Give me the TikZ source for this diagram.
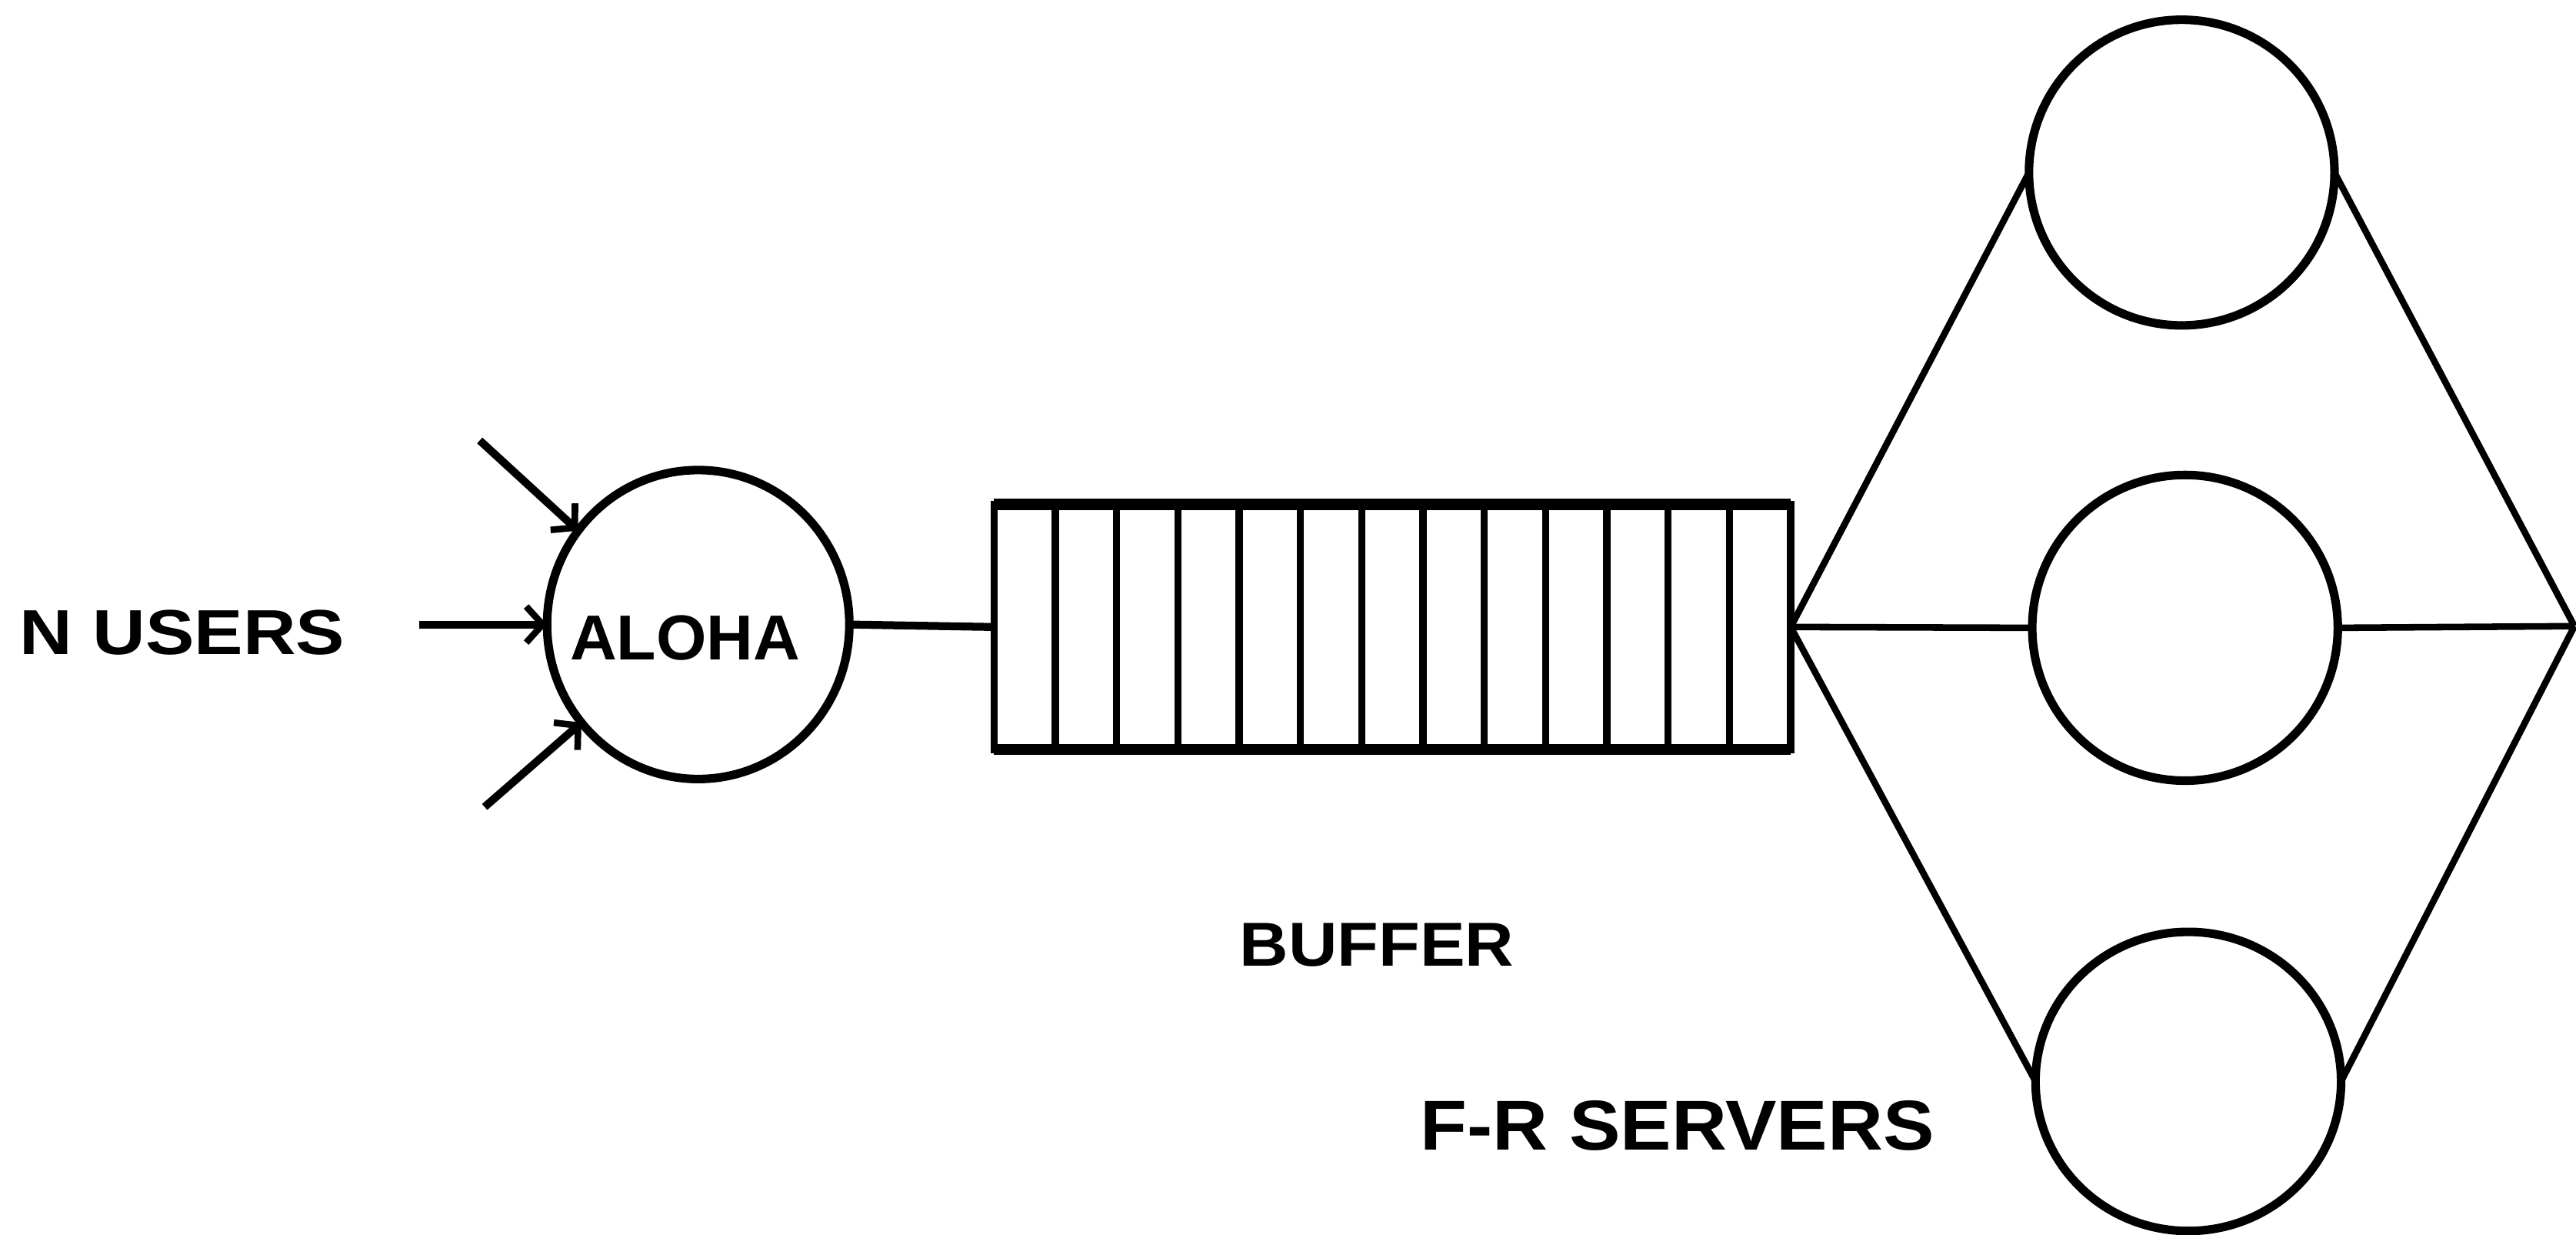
\documentclass[tikz,border=0pt]{standalone}
\usepackage{fontspec}
\setmainfont{Liberation Sans}
\usetikzlibrary{shapes.geometric,arrows.meta,calc}
\begin{document}
\begin{tikzpicture}[x=0.5pt,y=-0.5pt,
  station/.style={ellipse,draw,line width=2.6pt,inner sep=0pt,outer sep=0pt},
  link/.style={line width=2pt},
  feed/.style={line width=2.4pt,-{Straight Barb[length=5pt,width=11pt,line width=2pt]}},
  lbl/.style={inner sep=0pt,font=\bfseries}]
\useasboundingbox (0,0) rectangle (1568,751);

% ALOHA access point and its users
\node[station,minimum width=92pt,minimum height=94pt] (aloha) at (425,380) {};
\node[lbl] (alohatext) at (417,388) {\resizebox{70pt}{13.5pt}{ALOHA}};
\coordinate (u1) at (292,268);
\coordinate (u2) at (255,380);
\coordinate (u3) at (295,491);
\draw[feed] (u1) -- (aloha.142);
\draw[feed] (u2) -- (aloha.west);
\draw[feed] (u3) -- (aloha.220);
\node[lbl] (users) at (111,385) {\resizebox{99pt}{13.5pt}{N USERS}};

% buffer of 13 cells
\node[draw,line width=2.2pt,outer sep=0pt,inner sep=0pt,
      minimum width=242.5pt,minimum height=74.5pt] (buffer) at (847.5,381.5) {};
\draw[line width=3.4pt] (buffer.north west) -- (buffer.north east);
\draw[line width=3.4pt] (buffer.south west) -- (buffer.south east);
\foreach \i in {1,...,12}
  \draw[line width=2.2pt] ($(buffer.north west)!\i/13!(buffer.north east)$)
                       -- ($(buffer.south west)!\i/13!(buffer.south east)$);
\draw[line width=2.4pt] (aloha.east) -- (buffer.west);
\node[lbl] (bufferlabel) at (838,575) {\resizebox{83.5pt}{13pt}{BUFFER}};

% parallel servers
\node[station,minimum width=93pt,minimum height=93pt] (s1) at (1328,105) {};
\node[station,minimum width=93pt,minimum height=93pt] (s2) at (1330,382) {};
\node[station,minimum width=93pt,minimum height=91pt] (s3) at (1332,658) {};
\coordinate (join) at (1567,381);
\draw[link] (buffer.east) -- (s1.west);
\draw[link] (buffer.east) -- (s2.west);
\draw[link] (buffer.east) -- (s3.west);
\draw[link] (s1.east) -- (join);
\draw[link] (s2.east) -- (join);
\draw[link] (s3.east) -- (join);
\node[lbl] (serverslabel) at (1021,685) {\resizebox{156.5pt}{15pt}{F-R SERVERS}};
\end{tikzpicture}
\end{document}
